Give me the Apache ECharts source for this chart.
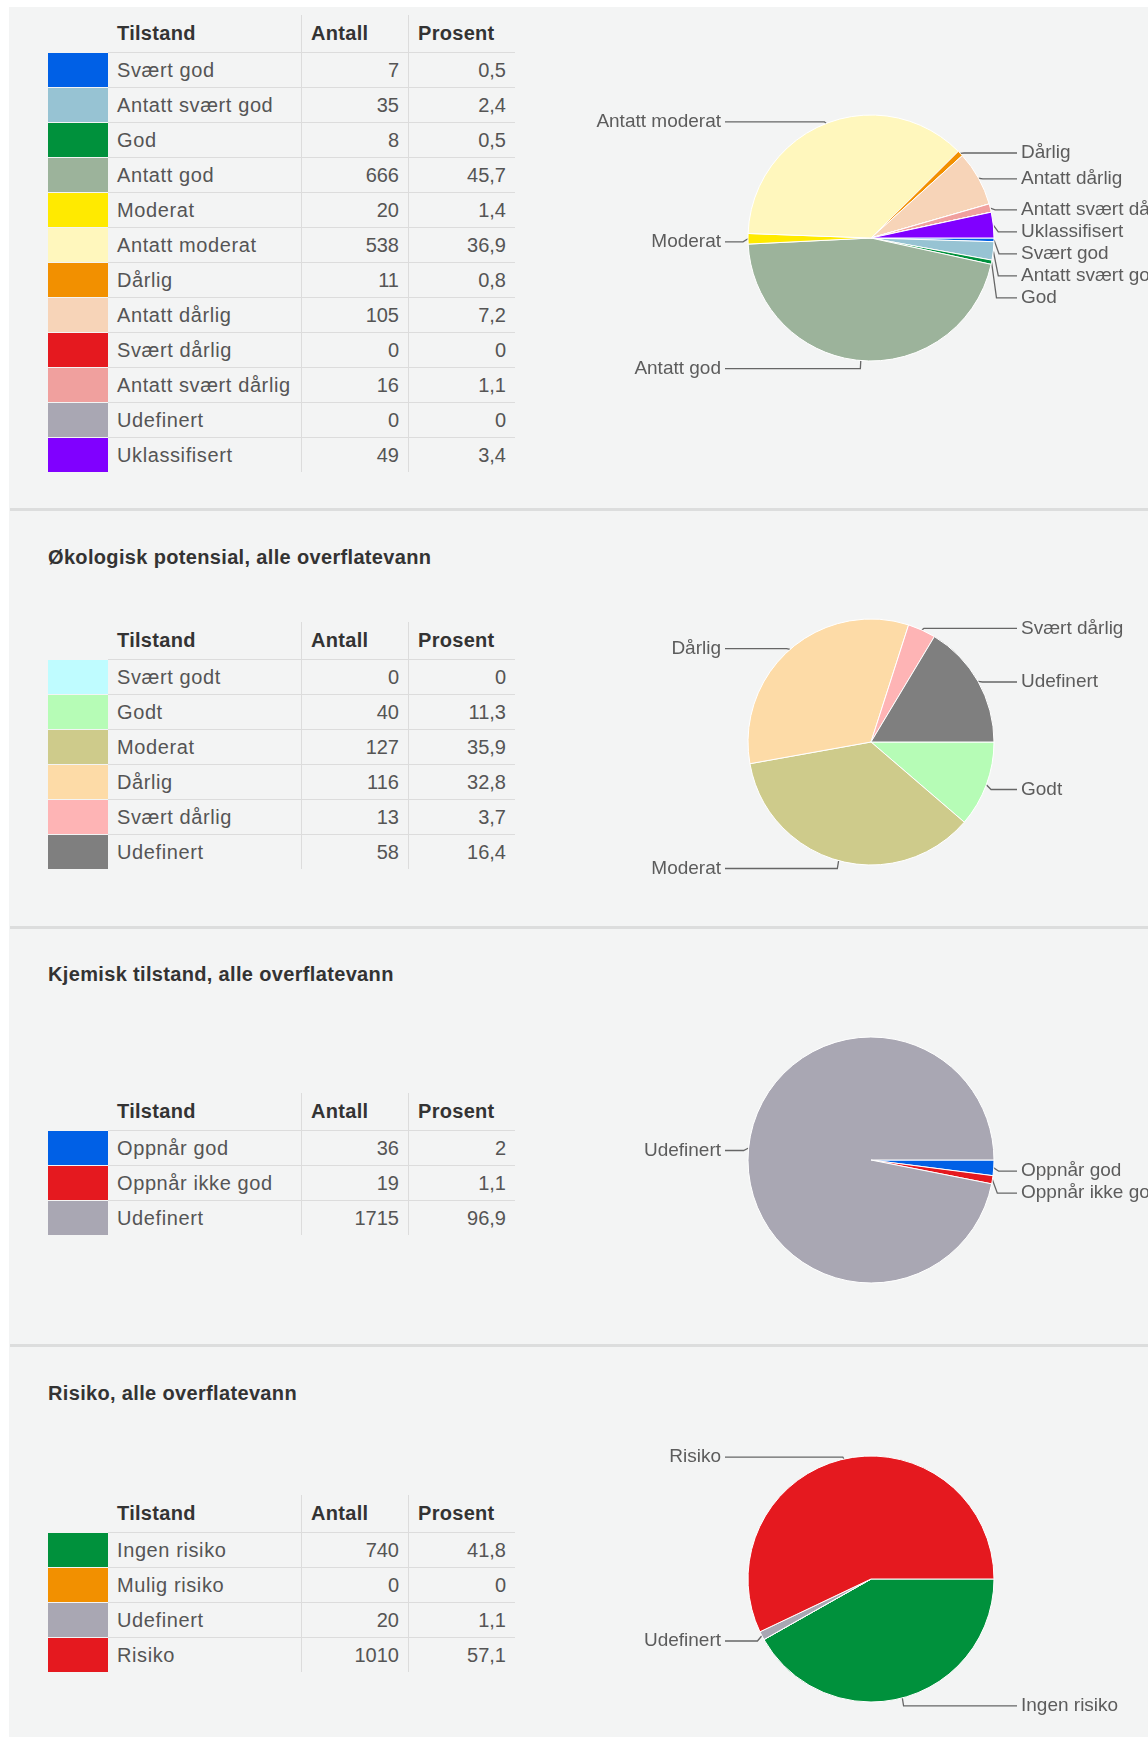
<!DOCTYPE html>
<html>
<head>
<meta charset="utf-8">
<title>Tilstand, alle overflatevann</title>
<script src="https://cdn.jsdelivr.net/npm/echarts@6.0.0/dist/echarts.min.js"></script>
<style>
html, body { margin:0; padding:0; width:1148px; height:1737px; overflow:hidden; background:#fff;
  font-family:"Liberation Sans", Arial, sans-serif; }
#panel { position:absolute; left:9px; top:7px; width:1139px; height:1730px; background:#f3f4f4; }
.skille { position:absolute; left:10px; width:1138px; height:3px; background:#dcdddd; }
.tittel { position:absolute; left:48px; font-weight:bold; font-size:20px; letter-spacing:0.34px; line-height:24px; color:#333; white-space:nowrap; }
.tab { position:absolute; left:48px; width:467px; font-size:20px; color:#555; }
.rad { display:flex; height:35px; }
.rad.hode { height:37px; color:#333; font-weight:bold; letter-spacing:0.3px; }
.rad > div { box-sizing:border-box; display:flex; align-items:center; white-space:nowrap; }
.c0 { width:60px; }
.c1 { width:193px; padding-left:9px; }
.rad.data .c1 { letter-spacing:0.6px; }
.c2 { width:107px; border-left:1px solid #dcdcdc; justify-content:flex-end; padding-right:9px; }
.c3 { width:107px; border-left:1px solid #dcdcdc; justify-content:flex-end; padding-right:9px; }
.hode .c2, .hode .c3 { justify-content:flex-start; padding-left:9px; padding-right:0; }
.rad.data .c0 { border-top:1px solid #f3f4f4; }
.rad.data .c1, .rad.data .c2, .rad.data .c3 { border-top:1px solid #dcdcdc; }
#chart { position:absolute; left:0; top:0; width:1400px; height:1737px; }
</style>
</head>
<body>
<div id="panel"></div>
<div class="skille" style="top:508px"></div>
<div class="skille" style="top:926px"></div>
<div class="skille" style="top:1344px"></div>
<div class="tittel" style="top:545px">Økologisk potensial, alle overflatevann</div>
<div class="tittel" style="top:962px">Kjemisk tilstand, alle overflatevann</div>
<div class="tittel" style="top:1381px">Risiko, alle overflatevann</div>
<div class="tab" id="tab1" style="top:15px"></div>
<div class="tab" id="tab2" style="top:622px"></div>
<div class="tab" id="tab3" style="top:1093px"></div>
<div class="tab" id="tab4" style="top:1495px"></div>
<div id="chart"></div>
<script>
// kolonneoverskrifter
var overskrifter = ['Tilstand', 'Antall', 'Prosent'];

// økologisk tilstand (øverst)
var tilstandOkologisk = ['Svært god', 'Antatt svært god', 'God', 'Antatt god', 'Moderat', 'Antatt moderat',
	'Dårlig', 'Antatt dårlig', 'Svært dårlig', 'Antatt svært dårlig', 'Udefinert', 'Uklassifisert'];
var antallOkologisk = [7, 35, 8, 666, 20, 538, 11, 105, 0, 16, 0, 49];
var prosentOkologisk = [0.5, 2.4, 0.5, 45.7, 1.4, 36.9, 0.8, 7.2, 0, 1.1, 0, 3.4];
var fargerOkologisk = ['#0060e6', '#97c3d3', '#00913c', '#9cb39b', '#ffea00', '#fff7bd',
	'#f29000', '#f7d4b8', '#e5191f', '#f0a09e', '#a9a7b3', '#8000ff'];

// økologisk potensial
var tilstandPotensial = ['Svært godt', 'Godt', 'Moderat', 'Dårlig', 'Svært dårlig', 'Udefinert'];
var antallPotensial = [0, 40, 127, 116, 13, 58];
var prosentPotensial = [0, 11.3, 35.9, 32.8, 3.7, 16.4];
var fargerPotensial = ['#bffcff', '#b6fcb6', '#cecb8b', '#fddba7', '#feb4b5', '#7f7f7f'];

// kjemisk tilstand
var tilstandKjemisk = ['Oppnår god', 'Oppnår ikke god', 'Udefinert'];
var antallKjemisk = [36, 19, 1715];
var prosentKjemisk = [2, 1.1, 96.9];
var fargerKjemisk = ['#0060e6', '#e5191f', '#a9a7b3'];

// risiko
var tilstandRisiko = ['Ingen risiko', 'Mulig risiko', 'Udefinert', 'Risiko'];
var antallRisiko = [740, 0, 20, 1010];
var prosentRisiko = [41.8, 0, 1.1, 57.1];
var fargerRisiko = ['#00913c', '#f29000', '#a9a7b3', '#e5191f'];

function formater(v) {
	return String(v).replace('.', ',');
}

function lagTabell(id, navn, antall, prosent, farger) {
	var html = '<div class="rad hode"><div class="c0"></div><div class="c1">' + overskrifter[0] +
		'</div><div class="c2">' + overskrifter[1] + '</div><div class="c3">' + overskrifter[2] + '</div></div>';
	for (var i = 0; i < navn.length; i++) {
		html += '<div class="rad data"><div class="c0" style="background:' + farger[i] + '"></div>' +
			'<div class="c1">' + navn[i] + '</div><div class="c2">' + antall[i] + '</div>' +
			'<div class="c3">' + formater(prosent[i]) + '</div></div>';
	}
	document.getElementById(id).innerHTML = html;
}

lagTabell('tab1', tilstandOkologisk, antallOkologisk, prosentOkologisk, fargerOkologisk);
lagTabell('tab2', tilstandPotensial, antallPotensial, prosentPotensial, fargerPotensial);
lagTabell('tab3', tilstandKjemisk, antallKjemisk, prosentKjemisk, fargerKjemisk);
lagTabell('tab4', tilstandRisiko, antallRisiko, prosentRisiko, fargerRisiko);

var senterX = 871;
var radius = 123;

function kakeSerie(navn, antall, farger, senterY) {
	var data = [];
	for (var i = 0; i < navn.length; i++) {
		data.push({ name: navn[i], value: antall[i], itemStyle: { color: farger[i] } });
	}
	return {
		type: 'pie',
		center: [senterX, senterY],
		radius: radius,
		startAngle: 0,
		clockwise: true,
		avoidLabelOverlap: true,
		minShowLabelAngle: 0.5,
		itemStyle: { borderColor: '#ffffff', borderWidth: 1 },
		label: {
			color: '#5c5c5c',
			fontSize: 19,
			lineHeight: 20,
			fontFamily: 'Liberation Sans',
			alignTo: 'labelLine',
			edgeDistance: 0,
			bleedMargin: 0,
			distanceToLabelLine: 4,
			overflow: 'none'
		},
		labelLine: {
			length: 5,
			length2: 18,
			lineStyle: { color: '#666666', width: 1.3 }
		},
		// alle etiketter på samme side står i samme kolonne, som i originalen
		labelLayout: function (p) {
			if (!p.labelLinePoints) {
				return {};
			}
			var pts = p.labelLinePoints.map(function (pt) { return [pt[0], pt[1]]; });
			var hoyre = pts[2][0] >= senterX;
			var tekstX = hoyre ? senterX + radius + 27 : senterX - radius - 27;
			var y = pts[2][1] + 3;
			pts[1][1] += 3;
			pts[2][1] = y;
			pts[2][0] = hoyre ? tekstX - 4 : tekstX + 4;
			return {
				x: tekstX,
				y: y,
				align: hoyre ? 'left' : 'right',
				verticalAlign: 'middle',
				labelLinePoints: pts
			};
		},
		emphasis: { disabled: true },
		data: data
	};
}

var mycharts = echarts.init(document.getElementById('chart'));
var option = {
	animation: false,
	series: [
		kakeSerie(tilstandOkologisk, antallOkologisk, fargerOkologisk, 238),
		kakeSerie(tilstandPotensial, antallPotensial, fargerPotensial, 742),
		kakeSerie(tilstandKjemisk, antallKjemisk, fargerKjemisk, 1160),
		kakeSerie(tilstandRisiko, antallRisiko, fargerRisiko, 1579)
	]
};
mycharts.setOption(option);
</script>
</body>
</html>
